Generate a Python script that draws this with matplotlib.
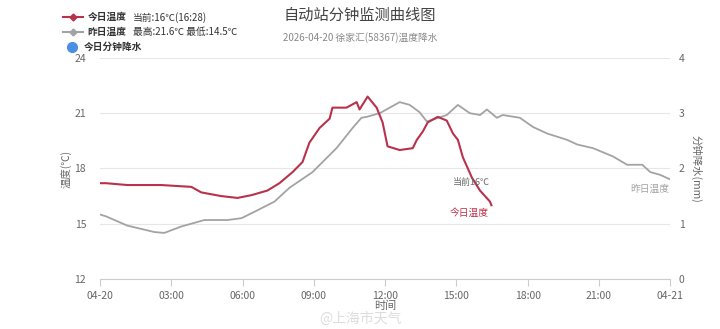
import matplotlib.pyplot as plt
from matplotlib.lines import Line2D

plt.rcParams['font.family'] = ['Noto Sans CJK SC', 'DejaVu Sans']

# today temperature (hours since 00:00, degC)
today_hours = [0.0, 0.25, 1.14, 2.57, 3.84, 4.26, 5.1, 5.78, 6.37, 7.04, 7.55, 8.1, 8.52,
               8.81, 9.24, 9.66, 9.78, 10.37, 10.8, 10.92, 11.26, 11.64, 11.89, 12.1, 12.61,
               13.16, 13.33, 13.58, 13.79, 14.21, 14.59, 14.85, 15.06, 15.27, 15.65, 15.99,
               16.41, 16.47]
today_temp = [17.2, 17.2, 17.1, 17.1, 17.0, 16.7, 16.5, 16.4, 16.55, 16.8, 17.2, 17.8, 18.35,
              19.4, 20.2, 20.7, 21.3, 21.3, 21.6, 21.2, 21.9, 21.3, 20.5, 19.2, 19.0,
              19.1, 19.55, 20.0, 20.5, 20.8, 20.6, 19.9, 19.55, 18.6, 17.5, 16.8,
              16.2, 16.0]

# yesterday temperature
yest_hours = [0.0, 0.25, 1.14, 2.28, 2.7, 3.42, 4.39, 5.36, 5.95, 6.5, 7.34, 7.97, 8.94,
              9.95, 10.63, 11.0, 11.22, 11.77, 12.19, 12.61, 13.03, 13.45, 13.75, 14.0,
              14.59, 15.06, 15.56, 15.99, 16.28, 16.7, 16.95, 17.67, 18.22, 18.81, 19.66,
              20.08, 20.75, 21.59, 22.18, 22.82, 23.16, 23.58, 24.0]
yest_temp = [15.5, 15.4, 14.9, 14.55, 14.5, 14.85, 15.2, 15.2, 15.3, 15.65, 16.2, 16.95, 17.8,
             19.1, 20.2, 20.75, 20.8, 21.0, 21.3, 21.6, 21.45, 21.05, 20.55, 20.65,
             20.9, 21.45, 21.0, 20.9, 21.2, 20.75, 20.9, 20.75, 20.25, 19.9, 19.55,
             19.3, 19.1, 18.65, 18.2, 18.2, 17.8, 17.65, 17.4]

x_ticks = [0, 3, 6, 9, 12, 15, 18, 21, 24]
x_labels = ['04-20', '03:00', '06:00', '09:00', '12:00', '15:00', '18:00', '21:00', '04-21']
temp_ticks = [12, 15, 18, 21, 24]
rain_ticks = [0, 1, 2, 3, 4]

red = '#b8324b'
grey = '#a3a3a3'
txt = '#666666'

fig = plt.figure(figsize=(7.2, 3.29), dpi=100)
ax = fig.add_axes([0.139, 0.152, 0.792, 0.672])

ax.plot(yest_hours, yest_temp, color=grey, lw=1.3)
ax.plot(today_hours, today_temp, color=red, lw=1.5)

ax.set_xlim(0, 24)
ax.set_ylim(12, 24)
ax.set_xticks(x_ticks)
ax.set_xticklabels(x_labels)
ax.set_yticks(temp_ticks)
ax.grid(axis='y', color='#e6e6e6', lw=0.8)
ax.set_axisbelow(True)
for s in ['top', 'left', 'right']:
    ax.spines[s].set_visible(False)
ax.spines['bottom'].set_color('#cccccc')
ax.tick_params(axis='x', colors='#cccccc', labelcolor=txt, labelsize=7.5, length=5, width=0.8)
ax.tick_params(axis='y', length=0, labelcolor=txt, labelsize=7.5, pad=10)
ax.set_ylabel('温度(℃)', color=txt, fontsize=7.5, labelpad=2)
ax.set_xlabel('时间', color=txt, fontsize=8, labelpad=0)

ax2 = ax.twinx()
ax2.set_ylim(0, 4)
ax2.set_yticks(rain_ticks)
for s in ['top', 'left', 'right', 'bottom']:
    ax2.spines[s].set_visible(False)
ax2.tick_params(axis='y', length=0, labelcolor=txt, labelsize=7.5, pad=6)
ax2.set_ylabel('分钟降水(mm)', color=txt, fontsize=7.5, rotation=270, labelpad=12)

# line-end labels
ax.text(15.65, today_temp[-1] + 1.25, '当前16℃', color=txt, fontsize=6.5, ha='center', va='center')
ax.text(15.55, today_temp[-1] - 0.4, '今日温度', color=red, fontsize=7, ha='center', va='center')
ax.text(yest_hours[-1] - 0.85, yest_temp[-1] - 0.5, '昨日温度', color=grey, fontsize=7, ha='center', va='center')

# titles
fig.text(0.5, 0.952, '自动站分钟监测曲线图', ha='center', va='center', fontsize=11, color='#444444')
fig.text(0.5, 0.885, '2026-04-20 徐家汇(58367)温度降水', ha='center', va='center', fontsize=7, color='#888888')

# legend
fig.add_artist(Line2D([0.087, 0.115], [0.948, 0.948], color=red, lw=1.5,
                      transform=fig.transFigure))
fig.add_artist(Line2D([0.101], [0.948], color=red, marker='D', markersize=3.5,
                      linestyle='none', transform=fig.transFigure))
fig.add_artist(Line2D([0.087, 0.115], [0.902, 0.902], color=grey, lw=1.5,
                      transform=fig.transFigure))
fig.add_artist(Line2D([0.101], [0.902], color=grey, marker='D', markersize=3.5,
                      linestyle='none', transform=fig.transFigure))
fig.add_artist(Line2D([0.1], [0.857], color='#4a8fe2', marker='o', markersize=7,
                      linestyle='none', transform=fig.transFigure))
fig.text(0.122, 0.948, '今日温度', fontsize=7, color='#333333', va='center', fontweight='bold')
fig.text(0.185, 0.948, '当前:16℃(16:28)', fontsize=7, color='#333333', va='center')
fig.text(0.122, 0.902, '昨日温度', fontsize=7, color='#333333', va='center', fontweight='bold')
fig.text(0.185, 0.902, '最高:21.6℃ 最低:14.5℃', fontsize=7, color='#333333', va='center')
fig.text(0.116, 0.857, '今日分钟降水', fontsize=7, color='#333333', va='center', fontweight='bold')

# watermark
fig.text(0.5, 0.03, '@上海市天气', ha='center', va='center', fontsize=10, color='#dddddd')

fig.savefig('out.png', dpi=100)
